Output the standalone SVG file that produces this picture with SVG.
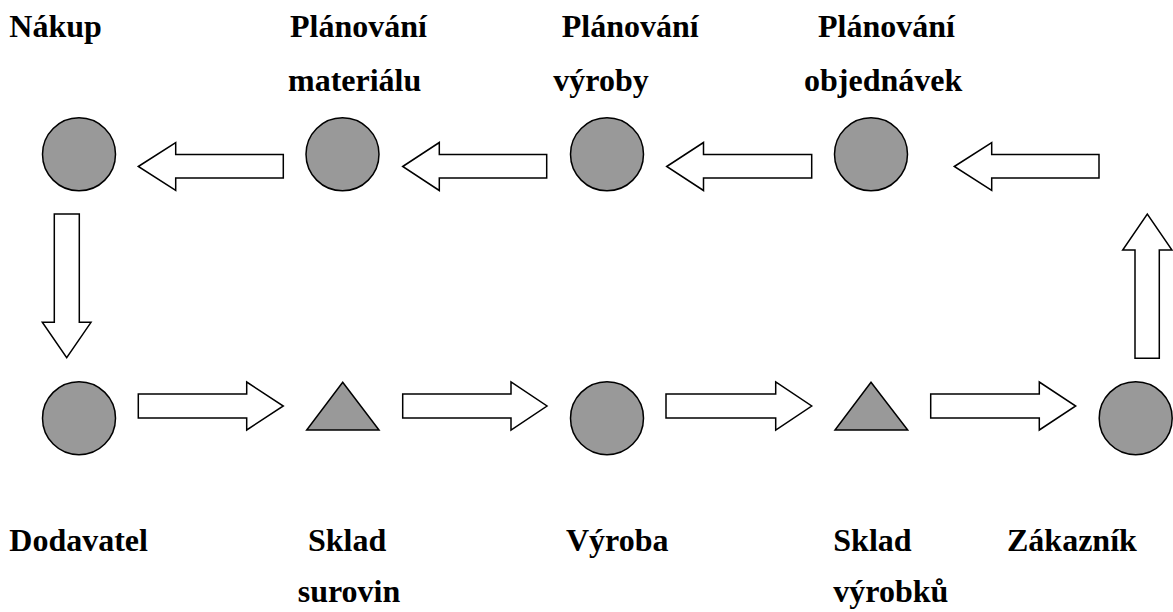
<svg xmlns="http://www.w3.org/2000/svg" width="1173" height="612" viewBox="0 0 1173 612">
  <style>
    .node { fill: #999999; stroke: #000000; stroke-width: 1.5; }
    .arrow { fill: #ffffff; stroke: #000000; stroke-width: 1.5; stroke-linejoin: miter; }
    .label { font-family: 'Liberation Serif', 'Times New Roman', serif; font-weight: 700; font-size: 32px; fill: #000000; }
  </style>
  <rect width="1173" height="612" fill="#ffffff"/>

  <!-- Information flow (top row, right to left) and material flow (bottom row, left to right) -->
  <g id="connectors">
    <polygon class="arrow" points="138.3,166.5 175.7,142.5 175.7,154.5 283.3,154.5 283.3,178 175.7,178 175.7,190.5"/>
    <polygon class="arrow" points="402.7,166.5 439.3,142.5 439.3,154.5 546.7,154.5 546.7,178 439.3,178 439.3,190.5"/>
    <polygon class="arrow" points="666.7,166.5 703.5,142.5 703.5,154.5 811.7,154.5 811.7,178 703.5,178 703.5,190.5"/>
    <polygon class="arrow" points="954.3,166.5 991.7,142.5 991.7,154.5 1099,154.5 1099,178 991.7,178 991.7,190.5"/>

    <polygon class="arrow" points="54.3,214 79.3,214 79.3,322.3 91,322.3 66.7,357.7 42.3,322.3 54.3,322.3"/>
    <polygon class="arrow" points="1135,358.3 1159.3,358.3 1159.3,250 1172,250 1147.3,214 1122.7,250 1135,250"/>

    <polygon class="arrow" points="138.3,394 246.7,394 246.7,382 283.3,406 246.7,430 246.7,418 138.3,418"/>
    <polygon class="arrow" points="402.7,394 511,394 511,382 547,406 511,430 511,418 402.7,418"/>
    <polygon class="arrow" points="666,394 775.7,394 775.7,382 811.7,406 775.7,430 775.7,418 666,418"/>
    <polygon class="arrow" points="930.7,394 1039.3,394 1039.3,382 1075.7,406 1039.3,430 1039.3,418 930.7,418"/>
  </g>

  <g id="nakup">
    <circle class="node" cx="79" cy="154.3" r="36.5"/>
    <text class="label" x="9.3" y="36.7">Nákup</text>
  </g>
  <g id="planovani-materialu">
    <circle class="node" cx="342.5" cy="154.3" r="36.5"/>
    <text class="label" x="290" y="36.7">Plánování</text>
    <text class="label" x="288" y="90.7">materiálu</text>
  </g>
  <g id="planovani-vyroby">
    <circle class="node" cx="607" cy="154.3" r="36.5"/>
    <text class="label" x="561.7" y="36.7">Plánování</text>
    <text class="label" x="553.3" y="90.7">výroby</text>
  </g>
  <g id="planovani-objednavek">
    <circle class="node" cx="871" cy="154.3" r="36.5"/>
    <text class="label" x="818" y="36.7">Plánování</text>
    <text class="label" x="804" y="90.7">objednávek</text>
  </g>

  <g id="dodavatel">
    <circle class="node" cx="79" cy="418.2" r="36.5"/>
    <text class="label" x="9.3" y="550.7">Dodavatel</text>
  </g>
  <g id="sklad-surovin">
    <polygon class="node" points="342.7,382.3 379,430 306.7,430"/>
    <text class="label" x="308" y="550.7">Sklad</text>
    <text class="label" x="297.7" y="601.7">surovin</text>
  </g>
  <g id="vyroba">
    <circle class="node" cx="607" cy="418.2" r="36.5"/>
    <text class="label" x="566" y="550.7">Výroba</text>
  </g>
  <g id="sklad-vyrobku">
    <polygon class="node" points="871,382.3 907.7,430 835,430"/>
    <text class="label" x="833.3" y="550.7">Sklad</text>
    <text class="label" x="833.3" y="601.7">výrobků</text>
  </g>
  <g id="zakaznik">
    <circle class="node" cx="1135.7" cy="418.2" r="36.5"/>
    <text class="label" x="1007" y="550.7">Zákazník</text>
  </g>
</svg>
